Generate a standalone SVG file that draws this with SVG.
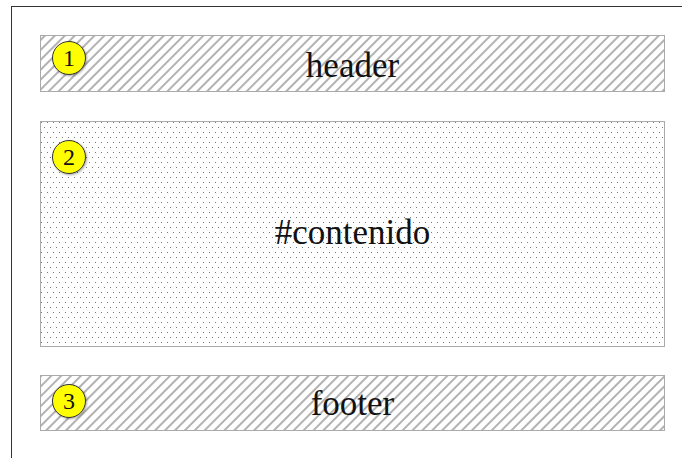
<svg xmlns="http://www.w3.org/2000/svg" width="682" height="458" viewBox="0 0 682 458">
  <style>
    .box { stroke: #aaaaaa; stroke-width: 1; }
    .hatch { fill: url(#hatch); }
    .dots { fill: url(#dots); }
    .label { font-family: "Liberation Serif", "Times New Roman", serif; font-size: 35px; fill: #111; text-anchor: middle; }
    .badge circle { fill: #ffff00; stroke: #333; stroke-width: 1; filter: url(#shadow); }
    .badge text { font-family: "Liberation Serif", "Times New Roman", serif; font-size: 24px; fill: #111; text-anchor: middle; }
  </style>
  <defs>
    <pattern id="hatch" patternUnits="userSpaceOnUse" width="7" height="7" patternTransform="rotate(45)">
      <rect width="7" height="7" fill="#ffffff"/>
      <line x1="1" y1="0" x2="1" y2="7" stroke="#999999" stroke-width="1.5"/>
    </pattern>
    <pattern id="dots" patternUnits="userSpaceOnUse" x="40" y="121" width="6" height="10">
      <rect width="6" height="10" fill="#ffffff"/>
      <rect x="1" y="1" width="1" height="1" fill="#777"/>
      <rect x="4" y="6" width="1" height="1" fill="#777"/>
    </pattern>
    <filter id="shadow" x="-30%" y="-30%" width="160%" height="160%">
      <feDropShadow dx="1" dy="1" stdDeviation="1" flood-color="#000" flood-opacity="0.35"/>
    </filter>
  </defs>

  <rect x="0" y="0" width="682" height="458" fill="#ffffff"/>
  <!-- page frame -->
  <rect x="11.5" y="6.5" width="700" height="500" fill="none" stroke="#333" stroke-width="1"/>

  <g id="header">
    <rect class="box hatch" x="40.5" y="35.5" width="624" height="56"/>
    <text class="label" x="352.5" y="77">header</text>
    <g class="badge">
      <circle cx="69" cy="58" r="16.5"/>
      <text x="69" y="66">1</text>
    </g>
  </g>

  <g id="contenido">
    <rect class="box dots" x="40.5" y="121.5" width="624" height="225"/>
    <text class="label" x="352.5" y="244">#contenido</text>
    <g class="badge">
      <circle cx="69" cy="157" r="16.5"/>
      <text x="69" y="165">2</text>
    </g>
  </g>

  <g id="footer">
    <rect class="box hatch" x="40.5" y="375.5" width="624" height="55"/>
    <text class="label" x="352.5" y="415">footer</text>
    <g class="badge">
      <circle cx="69" cy="401" r="16.5"/>
      <text x="69" y="409">3</text>
    </g>
  </g>

  <g id="connectors"/>
</svg>
